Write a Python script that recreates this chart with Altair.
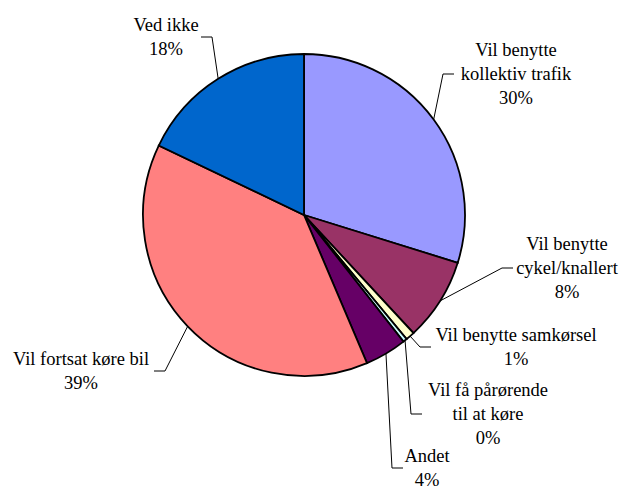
import math
import altair as alt
import pandas as pd

# ---- data ----
categories = [
    "Vil benytte\nkollektiv trafik",
    "Vil benytte\ncykel/knallert",
    "Vil benytte samkørsel",
    "Vil få pårørende\ntil at køre",
    "Andet",
    "Vil fortsat køre bil",
    "Ved ikke",
]
shares = [29.8, 8.3, 0.9, 0.4, 4.2, 38.5, 17.9]
colors = ["#9999FF", "#993366", "#FFFFCC", "#CCFFFF", "#660066", "#FF8080", "#0066CC"]

# ---- layout ----
W, H = 611, 484
CX, CY = 296, 207          # pie centre in the view
R = 161                    # pie radius
LINE_H = 24
FONT = "Liberation Serif"
FSIZE = 18.5
# label block centre (offset from pie centre) and leader elbow x offset
label_off = [(212, -141), (263, 53), (212, 132), (184, 199), (123, 253), (-223, 156), (-138, -178)]
elbow_dx = [139, 198, 116, 107, 88, -139, -92]
TAIL = 11

# ---- derived tables ----
total = sum(shares)
pie_df = pd.DataFrame({
    "category": categories,
    "value": shares,
    "idx": list(range(len(shares))),
})

text_rows = []
rule_rows = []
cum = 0.0
for i, (cat, v) in enumerate(zip(categories, shares)):
    mid = (cum + v / 2) / total * 2 * math.pi
    cum += v
    pct = f"{int(math.floor(v / total * 100 + 0.5))}%"
    lines = cat.split("\n") + [pct]
    lx, ly = CX + label_off[i][0], CY + label_off[i][1]
    n = len(lines)
    for j, t in enumerate(lines):
        text_rows.append({"t": t, "x": lx, "y": ly + (j - (n - 1) / 2) * LINE_H})
    sx, sy = CX + R * math.sin(mid), CY - R * math.cos(mid)
    ex = CX + elbow_dx[i]
    side = 1 if label_off[i][0] > elbow_dx[i] else -1
    rule_rows.append({"x": sx, "y": sy, "x2": ex, "y2": ly})
    rule_rows.append({"x": ex, "y": ly, "x2": ex + side * TAIL, "y2": ly})

text_df = pd.DataFrame(text_rows)
rule_df = pd.DataFrame(rule_rows)

pie = alt.Chart(pie_df).mark_arc(
    outerRadius=R, stroke="black", strokeWidth=1.8
).encode(
    theta=alt.Theta("value:Q", stack=True),
    order=alt.Order("idx:Q"),
    color=alt.Color("category:N", scale=alt.Scale(domain=categories, range=colors), legend=None),
    x=alt.value(CX),
    y=alt.value(CY),
)

leaders = alt.Chart(rule_df).mark_rule(color="black", strokeWidth=1).encode(
    x=alt.X("x:Q", scale=None),
    y=alt.Y("y:Q", scale=None),
    x2="x2:Q",
    y2="y2:Q",
)

labels = alt.Chart(text_df).mark_text(
    font=FONT, fontSize=FSIZE, color="black", align="center", baseline="middle"
).encode(
    x=alt.X("x:Q", scale=None),
    y=alt.Y("y:Q", scale=None),
    text="t:N",
)

chart = alt.layer(pie, leaders, labels).properties(
    width=W, height=H, padding=0,
    autosize=alt.AutoSizeParams(type="none"),
    background="white",
).configure_view(stroke=None)

chart.save("out.html", embed_options={"renderer": "svg", "actions": False})
